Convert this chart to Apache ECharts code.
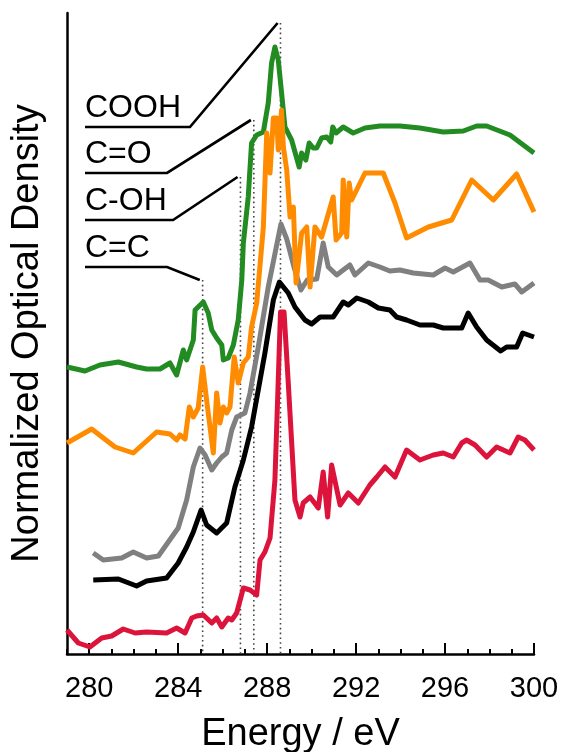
<!DOCTYPE html>
<html><head><meta charset="utf-8">
<script src="https://cdn.jsdelivr.net/npm/echarts@6/dist/echarts.min.js"></script>
<style>html,body{margin:0;padding:0;background:#fff}#c{width:561px;height:752px}</style>
</head><body><div id="c"></div>
<script>
// Energy (eV) vs normalized optical density (arbitrary offset units)
const green = [[279.0,2.87],[279.81,2.83],[280.48,2.89],[281.31,2.92],[282.13,2.87],[282.58,2.85],[283.18,2.85],[283.63,2.91],[283.93,2.79],[284.23,3.04],[284.38,2.94],[284.68,3.14],[284.76,3.44],[285.13,3.52],[285.35,3.41],[285.51,3.24],[285.73,3.16],[285.96,3.09],[286.03,2.94],[286.25,2.96],[286.48,3.09],[286.70,3.34],[286.86,3.74],[286.93,4.11],[287.15,4.57],[287.30,5.11],[287.53,5.19],[287.83,5.22],[288.05,5.51],[288.20,5.91],[288.35,6.07],[288.50,5.94],[288.65,5.61],[288.80,5.27],[289.10,5.14],[289.44,4.87],[289.55,5.01],[289.74,4.94],[289.89,5.11],[290.07,5.06],[290.23,5.06],[290.45,5.16],[290.68,5.17],[290.86,5.12],[290.95,5.27],[291.10,5.21],[291.42,5.27],[291.87,5.21],[292.40,5.26],[293.07,5.28],[293.97,5.28],[294.87,5.26],[295.92,5.22],[296.82,5.23],[297.42,5.28],[297.87,5.28],[298.92,5.19],[300.0,5.01]];
const orange = [[279.0,2.11],[280.11,2.25],[281.16,2.07],[281.98,2.01],[283.03,2.22],[283.63,2.20],[283.93,2.14],[284.08,2.19],[284.31,2.15],[284.50,2.47],[284.68,2.37],[284.90,2.46],[285.10,2.87],[285.35,2.41],[285.58,2.01],[285.73,2.61],[285.88,2.31],[286.03,2.47],[286.18,2.41],[286.33,2.47],[286.52,2.97],[286.70,2.71],[286.93,2.91],[287.15,2.97],[287.30,3.27],[287.53,3.51],[287.83,4.27],[287.98,5.21],[288.13,4.81],[288.28,5.36],[288.43,5.36],[288.50,5.04],[288.65,5.44],[288.73,5.07],[288.88,4.84],[289.03,4.37],[289.18,4.47],[289.30,3.71],[289.55,4.21],[289.78,4.27],[289.93,3.67],[290.15,4.27],[290.45,4.17],[290.97,4.57],[291.10,4.14],[291.35,4.21],[291.42,4.74],[291.58,4.17],[291.69,4.71],[291.80,4.54],[292.40,4.81],[293.22,4.81],[293.75,4.51],[294.27,4.16],[295.25,4.27],[296.30,4.34],[297.20,4.74],[298.17,4.54],[299.22,4.80],[300.0,4.42]];
const gray = [[280.18,1.01],[280.63,0.94],[281.46,0.96],[281.98,1.02],[282.58,0.96],[283.11,0.98],[284.00,1.26],[284.38,1.54],[284.68,1.87],[284.98,2.06],[285.21,1.99],[285.51,1.84],[285.73,1.91],[285.96,1.97],[286.18,2.01],[286.41,2.24],[286.63,2.37],[287.00,2.41],[287.23,2.61],[287.60,3.07],[288.05,3.67],[288.62,4.30],[288.88,4.15],[289.22,3.86],[289.52,3.64],[289.80,3.74],[290.23,3.75],[290.52,4.11],[290.75,3.87],[291.13,3.79],[291.42,3.84],[291.72,3.89],[291.95,3.79],[292.55,3.91],[293.07,3.87],[293.52,3.83],[293.97,3.84],[294.57,3.81],[295.47,3.79],[296.00,3.86],[296.37,3.82],[297.12,3.91],[297.57,3.74],[297.94,3.74],[298.55,3.67],[299.14,3.70],[299.45,3.62],[300.0,3.71]];
const black = [[280.18,0.74],[281.31,0.75],[282.13,0.68],[282.58,0.73],[283.48,0.76],[284.00,0.91],[284.38,1.07],[284.68,1.22],[285.03,1.44],[285.28,1.29],[285.73,1.21],[286.18,1.31],[286.55,1.67],[286.93,1.94],[287.30,2.27],[287.60,2.64],[287.90,3.01],[288.28,3.54],[288.55,3.72],[288.95,3.61],[289.25,3.47],[289.70,3.34],[290.00,3.30],[290.38,3.37],[290.97,3.37],[291.42,3.52],[291.65,3.49],[292.03,3.56],[292.55,3.52],[293.00,3.46],[293.52,3.44],[293.82,3.37],[294.27,3.34],[294.87,3.29],[295.47,3.29],[295.92,3.26],[296.75,3.26],[297.04,3.41],[297.42,3.27],[297.87,3.14],[298.50,3.03],[298.77,3.07],[299.22,3.07],[299.49,3.21],[300.0,3.17]];
const red = [[279.0,0.24],[279.51,0.11],[280.03,0.07],[280.56,0.16],[281.01,0.18],[281.53,0.25],[282.06,0.21],[282.58,0.22],[283.48,0.21],[283.93,0.26],[284.31,0.21],[284.61,0.36],[284.83,0.38],[285.13,0.39],[285.51,0.31],[285.73,0.36],[285.96,0.27],[286.25,0.36],[286.41,0.34],[286.63,0.41],[286.93,0.66],[287.23,0.64],[287.53,0.59],[287.68,0.94],[287.90,1.02],[288.13,1.16],[288.35,1.74],[288.50,2.74],[288.60,3.42],[288.76,3.42],[288.95,2.71],[289.25,1.54],[289.48,1.37],[289.62,1.51],[289.93,1.57],[290.30,1.46],[290.52,1.82],[290.72,1.37],[290.90,1.89],[291.28,1.49],[291.65,1.61],[292.10,1.51],[292.62,1.69],[292.93,1.77],[293.30,1.87],[293.75,1.77],[294.27,2.04],[294.87,1.94],[295.47,1.99],[295.92,2.01],[296.37,1.97],[296.75,2.11],[296.97,2.14],[297.35,2.09],[297.87,1.97],[298.32,2.07],[298.92,2.01],[299.29,2.17],[299.59,2.14],[300.0,2.04]];

const majorTicks = [280, 284, 288, 292, 296, 300];
const peakNames = ['C=C', 'C-OH', 'C=O', 'COOH'];
const peakEnergies = [285.1, 286.8, 287.4, 288.6];
const peakTops = [3.74, 4.77, 5.34, 6.31];

// annotation leader layout (axis units)
const leaderStartE = 279.81;
const leaderLevels = [3.87, 4.34, 4.81, 5.27];
const leaderElbows = [283.5, 283.77, 283.5, 284.53];

const FONT = 'Liberation Sans, Arial, sans-serif';
const chart = echarts.init(document.getElementById('c'), null, {renderer: 'canvas'});

const series = [];
peakEnergies.forEach((e, i) => {
  series.push({type: 'line', xAxisIndex: 0, data: [[e, peakTops[i]], [e, 0]], symbol: 'none', silent: true,
    lineStyle: {color: '#444', width: 1.6, type: [1.6, 3.2]}, z: 1});
});
const curves = [[red, '#DC143C'], [black, '#000000'], [gray, '#808080'], [green, '#228B22'], [orange, '#FF8C00']];
curves.forEach(([d, c], i) => {
  series.push({type: 'line', xAxisIndex: 0, data: d, symbol: 'none', showSymbol: false, silent: true,
    lineStyle: {color: c, width: 5, join: 'round', cap: 'butt'}, z: 2 + i});
});
peakEnergies.forEach((e, i) => {
  series.push({type: 'line', xAxisIndex: 0, symbol: 'none', silent: true,
    data: [[leaderStartE, leaderLevels[i]], [leaderElbows[i], leaderLevels[i]], [e - 0.13, peakTops[i]]],
    lineStyle: {color: '#000', width: 2.7, join: 'miter'}, z: 10});
});
series.push({type: 'scatter', xAxisIndex: 0, symbolSize: 0, itemStyle: {color: '#000', opacity: 1}, silent: true,
  data: peakNames.map((n, i) => ({name: n, value: [leaderStartE, leaderLevels[i] + 0.19]})),
  label: {show: true, position: 'right', distance: 0, formatter: p => p.name, fontFamily: FONT, fontSize: 32,
    fontWeight: 'normal', color: '#000', opacity: 1, textBorderWidth: 0}, z: 11});

chart.setOption({
  animation: false,
  backgroundColor: '#fff',
  grid: {left: 67, right: 27, top: 13, bottom: 98, containLabel: false, outerBoundsMode: 'none'},
  xAxis: [
    {type: 'value', min: 279, max: 300, interval: 1, position: 'bottom',
      axisLine: {show: true, onZero: false, lineStyle: {color: '#000', width: 2.5}},
      axisTick: {show: true, inside: true, length: 5, lineStyle: {color: '#000', width: 2}},
      axisLabel: {show: false}, splitLine: {show: false},
      name: 'Energy / eV', nameLocation: 'middle', nameGap: 62,
      nameTextStyle: {fontFamily: FONT, fontSize: 38, color: '#000'}},
    {type: 'value', min: 279, max: 300, position: 'bottom', offset: 0,
      axisLine: {show: false, onZero: false},
      axisTick: {show: true, inside: true, length: 11, customValues: majorTicks, lineStyle: {color: '#000', width: 2}},
      axisLabel: {show: true, customValues: majorTicks, margin: 20, fontFamily: FONT, fontSize: 29, color: '#000'},
      splitLine: {show: false}}
  ],
  yAxis: {type: 'value', min: 0, max: 6.41,
    axisLine: {show: true, lineStyle: {color: '#000', width: 2.5}},
    axisTick: {show: false}, axisLabel: {show: false}, splitLine: {show: false},
    name: 'Normalized Optical Density', nameLocation: 'middle', nameGap: 20, nameRotate: 90,
    nameTextStyle: {fontFamily: FONT, fontSize: 38, color: '#000'}},
  series: series
});
</script></body></html>
